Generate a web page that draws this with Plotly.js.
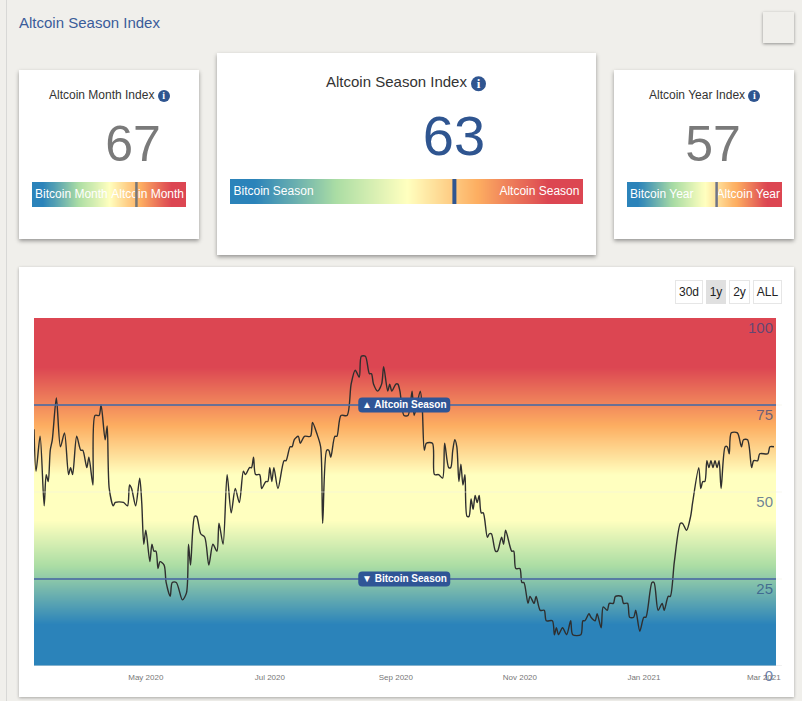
<!DOCTYPE html>
<html><head><meta charset="utf-8">
<script src="https://cdn.plot.ly/plotly-3.0.1.min.js"></script>
<style>
html,body{margin:0;padding:0;background:#f0efeb;width:802px;height:701px;overflow:hidden;font-family:"Liberation Sans",Arial,sans-serif;}
.abs{position:absolute;}
.card{position:absolute;background:#fff;box-shadow:0 2px 4px rgba(0,0,0,.38);}
.ttl{position:absolute;white-space:nowrap;color:#333;transform:translateY(-50%);}
.info{display:inline-block;border-radius:50%;background:#2f5590;color:#fff;text-align:center;font-weight:bold;font-family:"Liberation Serif",serif;vertical-align:middle;}
.num{position:absolute;transform:translate(-50%,-50%);line-height:1;}
.btn{position:absolute;top:280px;height:22px;line-height:22px;text-align:center;font-size:12px;color:#222;border:1px solid #e6e6e6;background:#fff;box-sizing:content-box;}
.plot{position:absolute;}
</style></head><body>
<div class="abs" style="left:6px;top:0;width:1px;height:701px;background:#d8d8d6"></div>
<div class="abs" style="left:19px;top:14px;font-size:15px;color:#3a5c9a">Altcoin Season Index</div>
<div class="abs" style="left:763px;top:12px;width:31px;height:31px;background:#f0efeb;box-shadow:0 1px 3px rgba(0,0,0,.4)"></div>

<div class="card" style="left:19px;top:70px;width:180px;height:169px"></div>
<div class="card" style="left:217px;top:53px;width:379px;height:202px"></div>
<div class="card" style="left:614px;top:70px;width:180px;height:169px"></div>
<div class="card" style="left:19px;top:267px;width:775px;height:430px;box-shadow:0 1px 3px rgba(0,0,0,.3)"></div>

<div class="ttl" style="left:49px;top:95px;font-size:12px" id="t0"></div>
<div class="ttl" style="left:326px;top:82px;font-size:15px" id="t1"></div>
<div class="ttl" style="left:649px;top:95px;font-size:12px" id="t2"></div>
<div class="num" style="left:133px;top:144px;font-size:50px;color:#7a7a7a" id="n0"></div>
<div class="num" style="left:454px;top:136px;font-size:56px;color:#2f5590" id="n1"></div>
<div class="num" style="left:713px;top:144px;font-size:50px;color:#7a7a7a" id="n2"></div>

<div class="btn" style="left:675px;width:26px">30d</div>
<div class="btn" style="left:706px;width:18px;background:#e0e0e0;border-color:#e0e0e0">1y</div>
<div class="btn" style="left:729px;width:19px">2y</div>
<div class="btn" style="left:753px;width:27px">ALL</div>

<div class="plot" id="g0" style="left:32px;top:173px;width:154px;height:34px"></div>
<div class="plot" id="g1" style="left:230px;top:170px;width:353px;height:34px"></div>
<div class="plot" id="g2" style="left:627px;top:173px;width:155px;height:34px"></div>
<div class="plot" id="chart" style="left:0;top:0;width:802px;height:701px"></div>

<script>
// ---- data -------------------------------------------------------------
const gaugeTitles = ["Altcoin Month Index", "Altcoin Season Index", "Altcoin Year Index"];
const gaugeValues = [67, 63, 57];
const gaugeLeftLabels = ["Bitcoin Month", "Bitcoin Season", "Bitcoin Year"];
const gaugeRightLabels = ["Altcoin Month", "Altcoin Season", "Altcoin Year"];
const rangeButtons = ["30d", "1y", "2y", "ALL"];

const startDate = "2020-03-07";
const endDate = "2021-03-07";
// days since startDate
const seriesDays = [0,1,3,5,6,7,8,9,11,13,15,17,18,19,21,23,24,26,27,29,30,32,33,35,36,37,39,40,44,46,47,48,50,52,53,54,55,57,58,59,60,61,62,64,65,67,68,70,73,75,76,77,79,80,82,84,86,88,90,91,93,95,97,99,101,103,104,106,107,108,109,111,112,114,115,116,117,118,120,123,124,126,127,128,130,131,133,136,137,139,141,142,144,145,146,148,149,151,154,156,158,160,161,163,165,166,167,169,171,172,174,175,176,178,179,180,182,184,186,187,190,191,192,193,196,197,199,201,202,204,205,206,207,208,209,210,211,212,213,214,215,216,217,218,219,220,221,223,224,225,227,228,230,231,232,235,236,237,239,240,241,243,244,246,247,249,251,252,255,256,257,258,260,262,264,265,269,270,271,273,274,276,277,279,280,282,283,285,286,289,290,292,293,295,296,298,300,301,304,305,307,309,310,312,313,315,318,319,321,323,324,327,328,329,330,331,332,333,334,335,336,337,338,340,341,342,343,346,348,349,351,353,354,356,357,361,362,364];
const seriesValues = [68,56,66,46,55,53,62,65,77,63,67,55,57,55,66,62,62,57,60,52,72,72,75,65,69,51,46,47,47,46,52,51,46,54,47,35,39,30,35,33,33,28,30,29,24,20,24,24,19,21,35,29,43,43,38,37,29,35,33,41,35,55,44,51,47,56,55,57,57,60,55,55,51,53,53,57,53,57,51,59,59,63,63,65,66,64,66,66,70,67,63,41,62,62,60,66,66,72,72,81,85,83,89,89,84,84,81,79,81,86,79,81,79,81,81,79,72,72,79,72,79,74,62,64,64,55,55,54,64,57,57,62,65,63,53,58,52,55,43,43,48,45,49,47,49,44,44,37,38,38,33,33,37,35,39,33,33,28,28,24,24,18,20,18,20,16,16,13,13,9,11,9,11,9,13,9,9,13,13,15,14,13,15,11,17,16,18,18,20,20,18,18,14,14,16,10,14,14,24,24,16,18,16,20,20,30,41,41,39,43,47,57,51,53,53,59,57,59,57,59,57,59,51,63,63,61,67,67,63,65,65,57,59,59,61,61,63,63];
const tickDates = ["2020-05-01","2020-07-01","2020-09-01","2020-11-01","2021-01-01","2021-03-01"];
const tickDateLabels = ["May 2020","Jul 2020","Sep 2020","Nov 2020","Jan 2021","Mar 2021"];
const yTicks = [0,25,50,75,100];
const seasonLevels = [75,25];
const seasonLabels = ["▲ Altcoin Season","▼ Bitcoin Season"];
const gradientLevels = [0,2,4,6,8,10,12,14,16,18,20,22,24,26,28,30,32,34,36,38,40,42,44,46,48,50,52,54,56,58,60,62,64,66,68,70,72,74,76,78,80,82,84,86,88,90,92,94,96,98,100];
const chartSpectrum = [[0,"#2b83ba"],[0.12,"#2b83ba"],[0.29,"#abdda4"],[0.42,"#ffffbf"],[0.55,"#ffffbf"],[0.69,"#fdae61"],[0.86,"#dc4652"],[1,"#dc4652"]];
const gaugeSpectrum = [[0,"#2b83ba"],[0.07,"#2b83ba"],[0.3,"#abdda4"],[0.5,"#ffffbf"],[0.7,"#fdae61"],[0.9,"#dc4652"],[1,"#dc4652"]];

// ---- small HTML bits ---------------------------------------------------
const infoSizes=[12,15,12];
gaugeTitles.forEach((t,i)=>{
  const s=infoSizes[i];
  document.getElementById("t"+i).innerHTML=t+' <span class="info" style="width:'+s+'px;height:'+s+'px;line-height:'+s+'px;font-size:'+(s-2)+'px">i</span>';
  document.getElementById("n"+i).textContent=gaugeValues[i];
});

const cfg={staticPlot:true,displayModeBar:false};
const font='"Liberation Sans",Arial,sans-serif';

// ---- gauges ------------------------------------------------------------
const markerColors=["#777777","#2f5590","#6f7488"];
const markerWidths=[2.5,4,2.5];
const gaugeW=[154,353,155];
const leftPad=[2,1,2];
const rightPad=[98.7,99,98.7];
const barTop=[9,9,9];
const barH=[25,25,25];
gaugeValues.forEach((v,i)=>{
  const over=1+barTop[i]/barH[i];
  const mx=v+markerWidths[i]/2/gaugeW[i]*100;
  Plotly.newPlot("g"+i,[
    {type:"heatmap",x:gradientLevels,y:[0,1],z:[gradientLevels,gradientLevels],zmin:0,zmax:100,colorscale:gaugeSpectrum,showscale:false,zsmooth:"best",hoverinfo:"skip"},
    {type:"scatter",mode:"text",x:[leftPad[i],rightPad[i]],y:[0.5,0.5],text:[gaugeLeftLabels[i],gaugeRightLabels[i]],textposition:["middle right","middle left"],textfont:{family:font,size:12,color:"#ffffff"},cliponaxis:false,hoverinfo:"skip",showlegend:false},
    {type:"scatter",mode:"lines",x:[mx,mx],y:[0,over],line:{color:markerColors[i],width:markerWidths[i]},cliponaxis:false,hoverinfo:"skip",showlegend:false}
  ],{
    width:gaugeW[i],height:barH[i]+barTop[i],margin:{l:0,r:0,t:barTop[i],b:0,pad:0},
    paper_bgcolor:"rgba(0,0,0,0)",plot_bgcolor:"rgba(0,0,0,0)",showlegend:false,
    xaxis:{range:[0,100],visible:false,fixedrange:true},
    yaxis:{range:[0,1],visible:false,fixedrange:true}
  },cfg);
});

// ---- main chart --------------------------------------------------------
const DAY=86400000, t0=Date.parse(startDate+"T00:00:00Z");
const seriesDates=seriesDays.map(d=>new Date(t0+d*DAY).toISOString().slice(0,10));
const pill="M-42,-7.5 L42,-7.5 Q46,-7.5 46,-3.5 L46,3.5 Q46,7.5 42,7.5 L-42,7.5 Q-46,7.5 -46,3.5 L-46,-3.5 Q-46,-7.5 -42,-7.5 Z";
const shapes=[], annotations=[];
yTicks.filter(t=>t<100).forEach(t=>{
  shapes.push({type:"line",xref:"paper",yref:"y",x0:0,x1:1.008,y0:t,y1:t,line:{color:t===0?"#e0e0e0":"rgba(240,240,225,0.55)",width:1},layer:"above"});
});
seasonLevels.forEach((lv,i)=>{
  shapes.push({type:"line",xref:"paper",yref:"y",x0:0,x1:1,y0:lv,y1:lv,line:{color:"#3d5f9c",width:1.5},layer:"above"});
  shapes.push({type:"path",xref:"paper",yref:"y",xsizemode:"pixel",ysizemode:"pixel",xanchor:0.499,yanchor:lv,path:pill,fillcolor:"#2f5596",line:{width:0},layer:"above"});
  annotations.push({xref:"paper",yref:"y",x:0.499,y:lv,yshift:1,text:"<b>"+seasonLabels[i]+"</b>",showarrow:false,font:{family:font,size:10,color:"#fff"},xanchor:"center",yanchor:"middle"});
});
Plotly.newPlot("chart",[
  {type:"heatmap",x:[startDate,endDate],y:gradientLevels,z:gradientLevels.map(l=>[l,l]),zmin:0,zmax:100,colorscale:chartSpectrum,showscale:false,zsmooth:"best",hoverinfo:"skip"},
  {type:"scatter",mode:"lines",x:seriesDates,y:seriesValues,line:{color:"#2f2f2f",width:1.4,shape:"spline",smoothing:0.8},hoverinfo:"skip",showlegend:false}
],{
  width:802,height:701,margin:{l:34,r:26,t:318,b:35,pad:0},
  paper_bgcolor:"rgba(0,0,0,0)",plot_bgcolor:"rgba(0,0,0,0)",showlegend:false,font:{family:font},
  xaxis:{type:"date",range:[startDate,endDate],tickmode:"array",tickvals:tickDates,ticktext:tickDateLabels,ticks:"",showgrid:false,zeroline:false,showline:false,tickfont:{family:font,size:8,color:"#777"},ticklabelstandoff:5,ticklabeloverflow:"allow",fixedrange:true},
  yaxis:{range:[0,100],side:"right",tickmode:"array",tickvals:yTicks,ticktext:yTicks.map(String),ticks:"",showgrid:false,zeroline:false,showline:false,ticklabelposition:"inside",ticklabelshift:10,ticklabeloverflow:"allow",tickfont:{family:font,size:15,color:"rgba(40,70,130,0.68)"},fixedrange:true},
  shapes:shapes,annotations:annotations
},cfg);
</script>
</body></html>
